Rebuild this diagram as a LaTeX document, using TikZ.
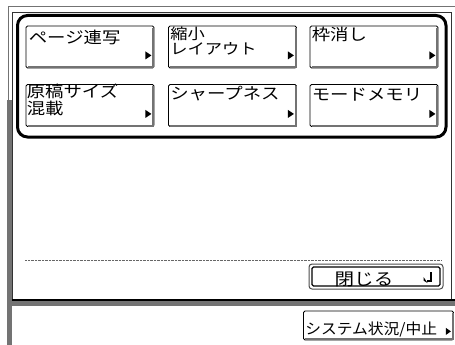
\documentclass[tikz,border=0pt]{standalone}
\usepackage{fontspec}
\newfontfamily\jp[FakeStretch=1.15]{Noto Sans CJK JP}
\newfontfamily\jpn[FakeStretch=1.05]{Noto Sans CJK JP}
\usetikzlibrary{calc}
\begin{document}
\begin{tikzpicture}[x=1pt,y=-1pt,
  btnbox/.style={draw=black,line width=0.8pt,fill=white,rounded corners=1.5pt,minimum width=128pt,minimum height=42pt,inner sep=0pt},
  shadeedge/.style={draw=black!55,line width=2.4pt},
  lbl/.style={font=\jp\fontsize{16}{17}\selectfont,anchor=base west,inner sep=0pt},
  frameline/.style={draw=black!55,line width=0.9pt},
  band/.style={draw=black!55,line width=5pt},
  tri/.style={fill=black}]
\useasboundingbox (0,0) rectangle (455,345);
% panel frame
\draw[frameline] (8,100) -- (8,6) -- (455,6);
\draw[draw=black!80,line width=0.9pt] (12,300) -- (12,12) -- (451,12) -- (451,300);
\draw[band] (9.5,100) -- (9.5,345);
\draw[band] (7,303.5) -- (455,303.5);
\draw[black,line width=1.6pt] (12,300) -- (455,300);
% rounded group frame
\draw[black,line width=3pt,rounded corners=10pt] (17.5,15.5) rectangle (446,137);
% buttons
\newcommand\mkbtn[3]{%
  \node[btnbox] (#1) at (#2,#3) {};
  \draw[shadeedge] ([xshift=-1.2pt,yshift=-2pt]#1.north east) -- ([xshift=-1.2pt,yshift=1.2pt]#1.south east) -- ([xshift=2pt,yshift=1.2pt]#1.south west);
  \fill[tri] ([xshift=-3pt,yshift=13pt]#1.south east) -- ++(-6pt,4pt) -- ++(0pt,-8pt) -- cycle;
}
\mkbtn{b1}{90}{47}
\mkbtn{b2}{232.5}{47}
\mkbtn{b3}{374}{47}
\mkbtn{b4}{90}{105.5}
\mkbtn{b5}{232.5}{105.5}
\mkbtn{b6}{374}{105.5}
\node[lbl] (t1) at ([xshift=3pt,yshift=-18pt]b1.north west) {ページ連写};
\node[lbl,font=\jp\fontsize{15}{15}\selectfont] (t2a) at ([xshift=2pt,yshift=-14pt]b2.north west) {縮小};
\node[lbl,font=\jp\fontsize{15}{15}\selectfont] (t2b) at ([xshift=2pt,yshift=-29pt]b2.north west) {レイアウト};
\node[lbl] (t3) at ([xshift=2pt,yshift=-15pt]b3.north west) {枠消し};
\node[lbl] (t4a) at ([xshift=1pt,yshift=-13pt]b4.north west) {原稿サイズ};
\node[lbl] (t4b) at ([xshift=1pt,yshift=-30pt]b4.north west) {混載};
\node[lbl] (t5) at ([xshift=2pt,yshift=-15pt]b5.north west) {シャープネス};
\node[lbl] (t6) at ([xshift=2pt,yshift=-16pt]b6.north west) {モードメモリ};
% dotted separator
\coordinate (dl) at (25,260);
\coordinate (dr) at (442,260);
\draw[black!60,line width=0.7pt,dash pattern=on 0.7pt off 0.7pt] (dl) -- (dr);
% close button
\node[draw=black!70,line width=1pt,rounded corners=3pt,minimum width=134pt,minimum height=25pt,inner sep=0pt] (close) at (376,276.5) {};
\node[draw=black,line width=1.3pt,rounded corners=1.5pt,minimum width=128pt,minimum height=19pt,inner sep=0pt] (closein) at (376,276.5) {};
\node[font=\jp\fontsize{17}{18}\selectfont,anchor=base,inner sep=0pt] (closet) at (364,285.5) {閉じる};
\draw[black,line width=2pt] ([xshift=-10pt,yshift=-6pt]closein.north east) -- ([xshift=-10pt,yshift=6pt]closein.south east) -- ++(-4pt,0pt);
\fill[black] ([xshift=-13pt,yshift=3.5pt]closein.south east) -- ++(-4pt,2.5pt) -- ++(0pt,3.5pt) -- cycle;
% system button
\node[btnbox,minimum width=150pt,minimum height=29pt] (sys) at (378.5,325.5) {};
\draw[shadeedge,line width=2pt] ([xshift=-1pt,yshift=-2pt]sys.north east) -- ([xshift=-1pt,yshift=1pt]sys.south east) -- ([xshift=2pt,yshift=1pt]sys.south west);
\fill[tri] ([xshift=-3pt,yshift=9pt]sys.south east) -- ++(-5pt,3.5pt) -- ++(0pt,-7pt) -- cycle;
\node[font=\jpn\fontsize{15}{16}\selectfont,anchor=base west,inner sep=0pt] (syst) at ([xshift=2pt,yshift=-23.5pt]sys.north west) {システム状況/中止};
\end{tikzpicture}
\end{document}
